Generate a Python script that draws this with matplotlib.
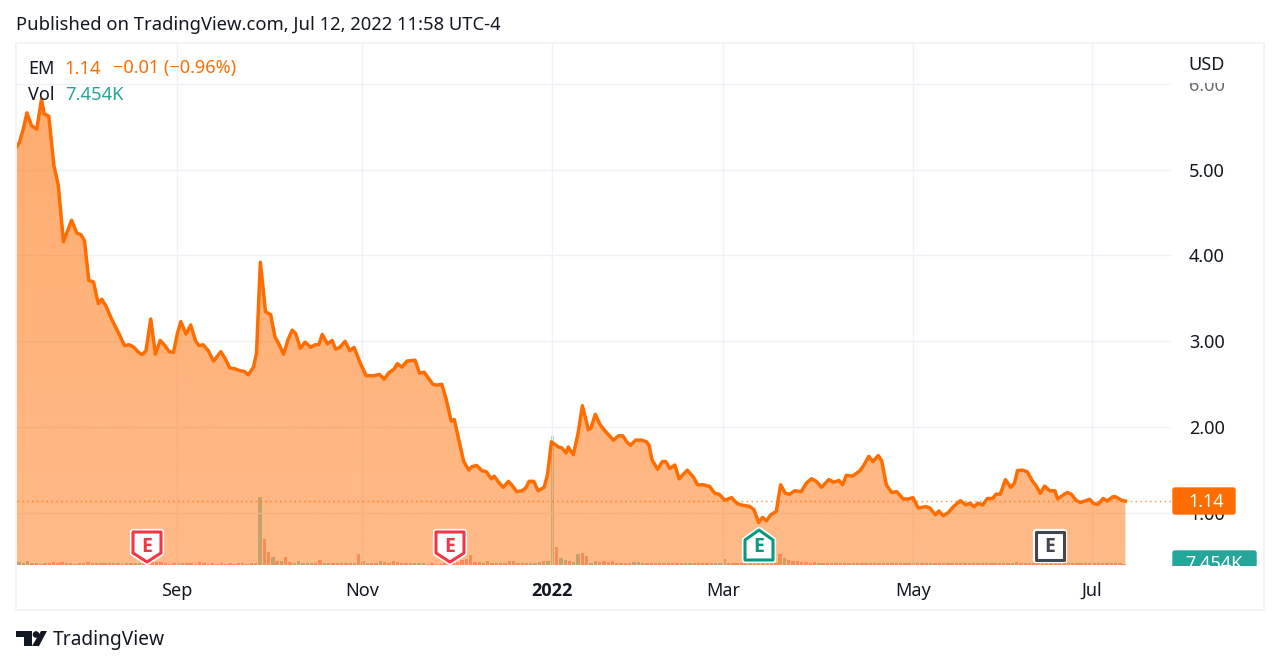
import numpy as np
import matplotlib
matplotlib.use('Agg')
import matplotlib.pyplot as plt
import matplotlib.patheffects as pe
from matplotlib.patches import Polygon, Circle, FancyBboxPatch, Rectangle
from matplotlib.transforms import Bbox

plt.rcParams['font.family'] = ['Noto Sans', 'DejaVu Sans']

# bar number (trading days from left edge) and close
bars = [0, 0.6, 1.5, 2.3, 3.4, 4.6, 5.7, 6.3, 7.4, 8.6, 9.6, 10.8, 12.7, 13.9, 14.9, 15.7, 16.7, 17.8, 18.9, 19.7,
        20.7, 22, 23.6, 25, 26.1, 27.2, 28.3, 29.1, 30, 31.1, 32.2, 33.3, 34.4, 35.4, 36.4, 37.3, 38.1, 39.3, 40.4, 41.5,
        42.3, 43.3, 44.5, 45.7, 46.6, 47.4, 48.4, 49.5, 50.7, 51.7, 52.8, 53.8, 55, 55.7, 56.6, 57.8, 59, 60, 61, 62,
        63, 64, 64.8, 65.9, 67, 68.3, 69.3, 70.2, 71, 72.2, 73.3, 74.1, 75.1, 76.3, 77.4, 78.4, 79.8, 81.2, 82.1, 83.1,
        84.3, 85.4, 86.5, 87.6, 88.5, 89.5, 90.7, 92.6, 93.6, 94.7, 96.7, 97.6, 98.8, 99.8, 101, 101.7, 103.9, 105.1, 105.8, 106.9,
        108.1, 109.2, 110.3, 111, 112, 113.1, 114.3, 115.2, 116.2, 117.4, 118.3, 119.1, 120.2, 121.2, 122.6, 123.4, 124.3, 125.9, 126.7, 127.7,
        128.2, 129.4, 130.5, 131.5, 132.9, 133.5, 134.5, 135.6, 136.7, 138.7, 139.9, 140.9, 141.8, 142.7, 143.9, 145.3, 146.4, 147, 147.7, 149,
        150.1, 150.9, 151.8, 153, 154, 155.9, 157.3, 158.3, 159.6, 161.1, 162.3, 163.3, 164.6, 166.2, 167.5, 168.9, 170.3, 171.4, 172.5, 173.4,
        174.3, 175.3, 176.6, 177.6, 178.7, 179.7, 180.9, 182.4, 183.6, 184.8, 185.9, 187.1, 188.8, 190, 191.2, 192, 192.9, 194.3, 196, 197,
        198.1, 199.1, 200.3, 201.1, 202.2, 203.4, 204.6, 206.1, 207.3, 208.4, 209.6, 211.4, 212.3, 213.6, 214.4, 215.4, 216.6, 217.7, 219.4, 220.7,
        221.6, 222.6, 223.5, 224.6, 225.7, 226.9, 227.7, 228.7, 229.9, 231.1, 232, 232.7, 233.9, 235, 236.2, 236.9, 238, 239, 240.2, 241.4,
        242, 243.3, 244.3, 245.2, 246.4, 247.3, 248.3, 249.5, 250.3, 251.4, 252.6, 253.6, 254.8, 255.5, 256.9, 257.8]
close = [5.27, 5.32, 5.48, 5.66, 5.51, 5.47, 5.82, 5.65, 5.62, 5.04, 4.82, 4.16, 4.41, 4.26, 4.24, 4.17, 3.71, 3.69, 3.44, 3.49,
         3.41, 3.26, 3.10, 2.95, 2.96, 2.93, 2.87, 2.845, 2.89, 3.26, 2.85, 3.01, 2.95, 2.88, 2.87, 3.09, 3.23, 3.085, 3.19, 3.01,
         2.95, 2.96, 2.89, 2.77, 2.825, 2.88, 2.80, 2.69, 2.68, 2.66, 2.65, 2.61, 2.70, 2.86, 3.92, 3.345, 3.31, 3.05, 2.96, 2.85,
         3.015, 3.13, 3.09, 2.92, 2.99, 2.93, 2.96, 2.96, 3.08, 2.97, 3.01, 2.91, 2.93, 3.0, 2.89, 2.93, 2.75, 2.60, 2.60, 2.60,
         2.615, 2.56, 2.635, 2.67, 2.74, 2.70, 2.77, 2.78, 2.63, 2.64, 2.50, 2.49, 2.50, 2.33, 2.07, 2.09, 1.60, 1.50, 1.54, 1.555,
         1.495, 1.48, 1.40, 1.43, 1.36, 1.30, 1.37, 1.32, 1.25, 1.26, 1.29, 1.37, 1.37, 1.26, 1.30, 1.45, 1.83, 1.77, 1.76, 1.70,
         1.77, 1.68, 1.93, 2.25, 1.97, 1.99, 2.15, 2.03, 1.96, 1.85, 1.90, 1.90, 1.83, 1.79, 1.85, 1.85, 1.83, 1.79, 1.62, 1.51,
         1.60, 1.60, 1.52, 1.56, 1.40, 1.50, 1.42, 1.33, 1.33, 1.31, 1.23, 1.22, 1.15, 1.18, 1.11, 1.09, 1.08, 1.04, 0.89, 0.95,
         0.91, 0.98, 1.02, 1.33, 1.23, 1.22, 1.26, 1.25, 1.35, 1.40, 1.37, 1.30, 1.39, 1.36, 1.38, 1.33, 1.44, 1.43, 1.49, 1.56,
         1.66, 1.60, 1.67, 1.61, 1.33, 1.24, 1.25, 1.165, 1.165, 1.18, 1.06, 1.075, 1.06, 0.98, 1.025, 0.97, 1.005, 1.07, 1.145, 1.095,
         1.115, 1.075, 1.115, 1.095, 1.17, 1.17, 1.22, 1.22, 1.39, 1.30, 1.35, 1.495, 1.50, 1.48, 1.37, 1.33, 1.23, 1.315, 1.26, 1.26,
         1.165, 1.21, 1.24, 1.22, 1.145, 1.125, 1.14, 1.16, 1.115, 1.10, 1.17, 1.14, 1.19, 1.19, 1.15, 1.14]

# volume per bar, in thousands
volume = [13, 10, 18, 8, 8, 7, 8, 8, 13, 9, 13, 12, 8, 7, 8, 9, 17, 8, 12, 9,
          8, 10, 8, 8, 7, 8, 8, 9, 8, 8, 9, 16, 17, 13, 8, 7, 8, 12, 9, 8,
          8, 7, 17, 8, 7, 8, 7, 8, 7, 8, 7, 8, 8, 7, 8, 9, 340, 130, 65, 40,
          20, 18, 38, 15, 10, 18, 9, 8, 8, 8, 25, 12, 10, 9, 8, 9, 8, 9, 10, 55,
          20, 12, 9, 10, 20, 13, 9, 20, 13, 9, 8, 10, 8, 8, 9, 7, 8, 7, 7, 8,
          9, 10, 13, 25, 30, 50, 15, 15, 10, 20, 9, 8, 8, 10, 20, 20, 10, 9, 10, 12,
          12, 13, 20, 20, 645, 90, 35, 25, 20, 15, 53, 60, 45, 10, 20, 15, 20, 15, 18, 10,
          8, 8, 8, 15, 13, 10, 8, 8, 12, 12, 12, 10, 10, 9, 9, 8, 8, 8, 8, 8,
          10, 10, 10, 12, 30, 9, 8, 8, 8, 8, 9, 9, 10, 9, 10, 9, 10, 55, 35, 25,
          18, 20, 13, 13, 12, 13, 12, 12, 10, 10, 9, 9, 8, 10, 9, 9, 8, 9, 8, 8,
          9, 8, 9, 8, 8, 8, 8, 8, 8, 8, 8, 8, 8, 8, 8, 8, 8, 8, 8, 8,
          8, 8, 8, 8, 8, 8, 8, 8, 8, 8, 8, 8, 15, 9, 8, 8, 8, 8, 8, 8,
          8, 8, 8, 8, 8, 8, 8, 8, 8, 8, 8, 8, 8, 8, 8, 8, 8, 7.454]
# u = up day (teal), d = down day (red)
vol_dir = ('uuuddddddddddddddddddd' 'ddddduuddddddddudddddddddddddddddd'
           'uddududduuuuudduuddddduddudduddddddduuuddddduddddddddddddd'
           'ddddduuuduuduuduudduudddddddduuuddddddddduuddddduuudddddudd'
           'ddddduddddddduddddddduddddddddddddddddduddddddddddddddddddu'
           'dddddddddddddddddddddddd')
vol_dir = (vol_dir + 'd' * 258)[:len(volume)]

tick_bars = [37.2, 80.2, 124.4, 164.2, 208.4, 250]
tick_names = ['Sep', 'Nov', '2022', 'Mar', 'May', 'Jul']
price_ticks = [1, 2, 3, 4, 5, 6]
last_price = 1.14

ORANGE = '#ff6d00'
TEAL = '#26a69a'
RED = '#f23645'
INK = '#131722'
GRID = '#eff1f6'
W, H = 1280, 666

fig = plt.figure(figsize=(W / 100, H / 100), dpi=100, facecolor='white')
# pane runs from x 17 to 1171 and y 43 to 565 in the image
ax = fig.add_axes([17 / W, 1 - 565 / H, (1171 - 17) / W, (565 - 43) / H])
ax_vol = ax.twinx()
ax.set_zorder(ax_vol.get_zorder() + 1)
ax.patch.set_visible(False)

xlim = (0, 268.4)
ylim = (0.396, 6.473)

ax_vol.bar(np.arange(len(volume)) + 0.5, volume, width=0.78,
           color=[TEAL if d == 'u' else '#ef5350' for d in vol_dir], alpha=0.5, linewidth=0)
ax_vol.set_ylim(0, 2610)
ax_vol.set_yticks([])

# area under the line, alpha fades a little towards the bottom
poly = ax.fill_between(bars, close, ylim[0], facecolor='none', edgecolor='none')
grad = np.zeros((256, 1, 4))
grad[..., :3] = matplotlib.colors.to_rgb(ORANGE)
grad[..., 3] = np.linspace(0.58, 0.47, 256)[:, None]
im = ax.imshow(grad, extent=(xlim[0], xlim[1], ylim[0], ylim[1]), aspect='auto', origin='upper', zorder=2)
im.set_clip_path(poly.get_paths()[0], transform=ax.transData)

ax.plot(bars, close, color=ORANGE, lw=2.5, solid_joinstyle='round', zorder=3)
ax.axhline(last_price, color=ORANGE, lw=1, ls=(0, (1, 2.5)), alpha=0.8, zorder=3)

ax.set_xlim(*xlim)
ax.set_ylim(*ylim)
ax.grid(True, color=GRID, lw=1)
ax.set_axisbelow(True)
ax.yaxis.tick_right()
ax.set_yticks(price_ticks)
ax.set_yticklabels(['%.2f' % p for p in price_ticks])
ax.set_xticks(tick_bars)
ax.set_xticklabels(tick_names)
ax.tick_params(axis='y', length=0, pad=13, labelsize=13, labelcolor=INK)
ax.tick_params(axis='x', length=0, pad=12, labelsize=13, labelcolor=INK)
ax.get_xticklabels()[2].set(fontfamily=['Open Sans', 'DejaVu Sans'], fontweight='bold')
for a in (ax, ax_vol):
    for s in a.spines.values():
        s.set_visible(False)

# the 6.00 label runs under the USD header and is cut off
lab6 = ax.get_yticklabels()[5]
lab6.set_color('#6a6d78')
lab6.set_clip_on(True)
lab6.set_clip_box(Bbox([[1100, H - 600], [1280, H - 83]]))

# everything else is placed in image pixels
ov = fig.add_axes([0, 0, 1, 1], zorder=10)
ov.set_xlim(0, W)
ov.set_ylim(H, 0)
ov.axis('off')
ov.patch.set_visible(False)

ov.add_patch(Rectangle((16, 43), 1248, 567, fill=False, ec=GRID, lw=1.2))
ov.text(16, 25.5, 'Published on TradingView.com, Jul 12, 2022 11:58 UTC-4', fontsize=13.25, color=INK, va='center')

ov.text(28, 68.5, 'EM', fontsize=13, color=INK, va='center')
ov.text(64, 68.5, '1.14', fontsize=13.3, color=ORANGE, va='center')
ov.text(113, 68.5, '\u22120.01 (\u22120.96%)', fontsize=13, color=ORANGE, va='center')
ov.text(28, 95.5, 'Vol', fontsize=13, color=INK, va='center')
ov.text(65, 95.5, '7.454K', fontsize=13.3, color=TEAL, va='center')
ov.text(1188, 65.5, 'USD', fontsize=13, color=INK, va='center')

# last price and last volume tags on the price scale
ov.add_patch(FancyBboxPatch((1173, 488), 62, 26, boxstyle='round,pad=0,rounding_size=2', fc=ORANGE, ec=ORANGE, lw=1))
ov.text(1206, 502, '1.14', fontsize=13, color='white', ha='center', va='center')
clip = Rectangle((1170, 540), 100, 26, transform=ov.transData)
tag = FancyBboxPatch((1173, 551), 83, 30, boxstyle='round,pad=0,rounding_size=2', fc=TEAL, ec=TEAL, lw=1)
ov.add_patch(tag)
tag.set_clip_path(clip)
t = ov.text(1214, 564, '7.454K', fontsize=13, color='white', ha='center', va='center')
t.set_clip_path(clip)


def badge(xc, pts, edge, fill='white'):
    outline = [(xc + dx, y) for dx, y in pts]
    ov.add_patch(Polygon(outline, closed=True, fc=fill, ec=edge, lw=2.2, joinstyle='round',
                         path_effects=[pe.Stroke(linewidth=4.5, foreground='white'), pe.Normal()]))


down = [(-14, 532), (14, 532), (14, 553), (0, 562), (-14, 553)]
up = [(0, 530), (14, 540), (14, 560), (-14, 560), (-14, 540)]
square = [(-14, 532), (14, 532), (14, 560), (-14, 560)]
for xc, pts, c, ty in [(147, down, RED, 547.5), (450, down, RED, 547.5), (759, up, '#089981', 547.5), (1050, square, '#434651', 546.5)]:
    badge(xc, pts, c)
    ov.text(xc, ty, 'E', fontsize=14, color=c, ha='center', va='center', fontfamily=['Open Sans', 'DejaVu Sans'], fontweight='bold')

# logo
ov.add_patch(Polygon([(16, 631), (32, 631), (32, 646), (24, 646), (24, 637), (16, 637)], closed=True, fc=INK, ec='none'))
ov.add_patch(Circle((36, 634.5), 3.3, fc=INK, ec='none'))
ov.add_patch(Polygon([(41, 631), (47, 631), (39, 646), (32, 646)], closed=True, fc=INK, ec='none'))
ov.text(53, 640, 'TradingView', fontsize=13.8, color=INK, va='center')

fig.savefig('out.png', dpi=100, facecolor='white')
